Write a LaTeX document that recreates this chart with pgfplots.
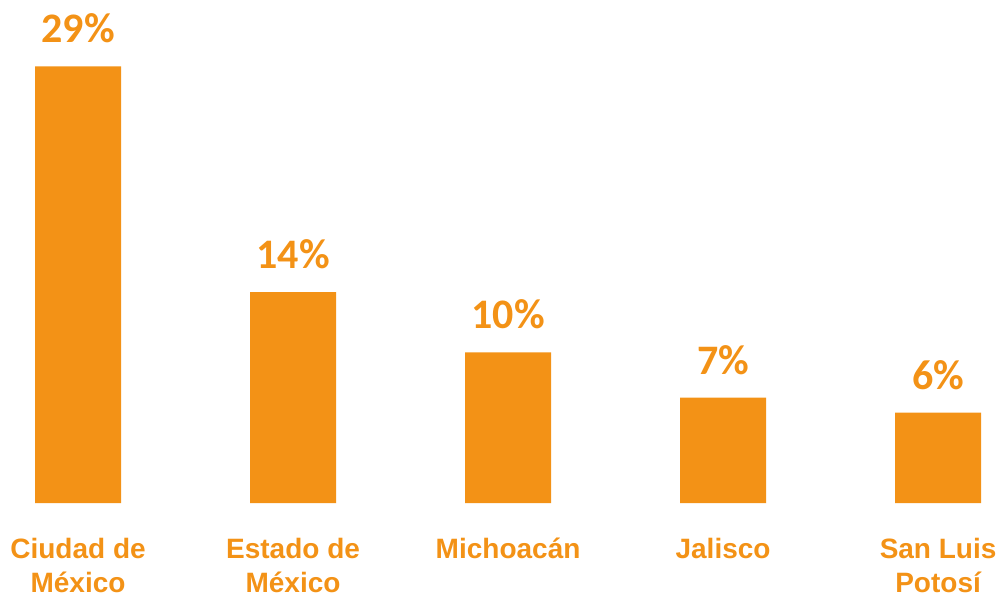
\documentclass[border=0pt]{standalone}
\usepackage{pgfplots}
\pgfplotsset{compat=1.18}
\usepackage{fontspec}
\setmainfont{Liberation Sans}
\newfontfamily\calib{Carlito}
\definecolor{BarOrange}{HTML}{F39216}

\begin{document}
\begin{tikzpicture}
\begin{axis}[
 scale only axis,
 width=500pt, height=251.5pt,
 xmin=-0.363, xmax=4.288,
 ymin=0, ymax=33.4,
 axis line style={draw=none},
 major tick length=0pt,
 ytick=\empty,
 xtick={0,1,2,3,4},
 xticklabels={Ciudad de\\México, Estado de\\México, Michoacán, Jalisco, San Luis\\Potosí},
 xticklabel style={font=\fontsize{14}{16.8}\selectfont\bfseries, text=BarOrange, align=center, anchor=north, yshift=-17.5pt, inner sep=0pt},
 /pgf/number format/assume math mode=true,
 nodes near coords={\pgfmathprintnumber{\pgfplotspointmeta}\%},
 nodes near coords style={font=\calib\fontsize{21}{24}\selectfont\bfseries, text=BarOrange, anchor=south, yshift=8pt},
 clip=false,
]
\addplot[ybar, bar width=43pt, fill=BarOrange, draw=none]
 coordinates {(0,29) (1,14) (2,10) (3,7) (4,6)};
\end{axis}
\pgfresetboundingbox
\path[use as bounding box] (0pt,-46.5pt) rectangle (500pt,251.5pt);
\end{tikzpicture}
\end{document}
